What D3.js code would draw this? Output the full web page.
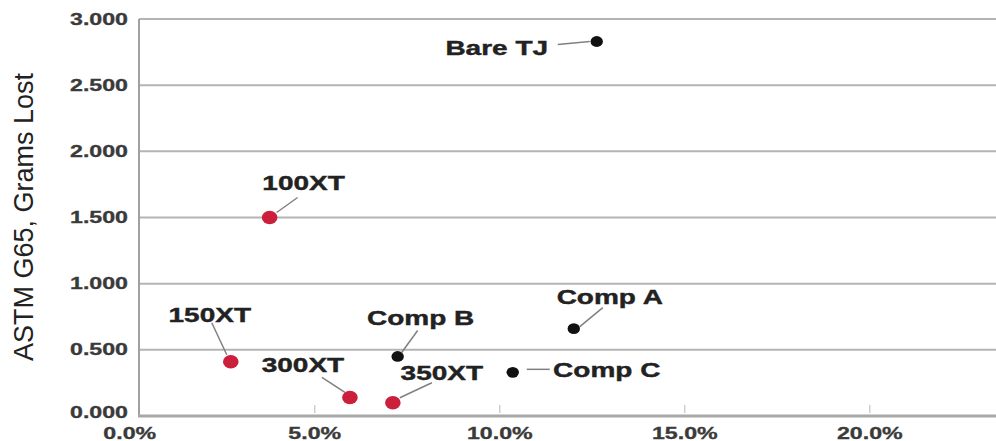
<!DOCTYPE html>
<html>
<head>
<meta charset="utf-8">
<script src="https://cdn.jsdelivr.net/npm/d3@7/dist/d3.min.js"></script>
<style>
  html, body { margin: 0; padding: 0; background: #fff; }
  svg { display: block; }
</style>
</head>
<body>
<svg id="chart" width="996" height="441"></svg>
<script>
// ---- data ----
const names   = ["Bare TJ", "100XT", "150XT", "300XT", "350XT", "Comp B", "Comp A", "Comp C"];
const xValues = [12.62, 3.78, 2.73, 5.95, 7.11, 7.24, 12.0, 10.35];   // percent
const yValues = [2.83, 1.50, 0.41, 0.14, 0.10, 0.45, 0.66, 0.33];     // grams lost
const groups  = ["comp", "xt", "xt", "xt", "xt", "comp", "comp", "comp"];
const xTicks  = [0, 5, 10, 15, 20];
const yTicks  = [0, 0.5, 1, 1.5, 2, 2.5, 3];
const yTitle  = "ASTM G65, Grams Lost";

// ---- layout (label placement relative to each dot, in px) ----
const labelLayout = {
  "Bare TJ": { dx: -100, dy: 7,   l: [-39, 3, -7, 0] },
  "100XT":   { dx: 34,   dy: -34, l: [7, -5, 28, -20] },
  "150XT":   { dx: -21,  dy: -47, l: [-19, -39, -4, -7] },
  "300XT":   { dx: -47,  dy: -32, l: [-28, -20, -5, -5] },
  "350XT":   { dx: 49,   dy: -30, l: [39, -20, 7, -5] },
  "Comp B":  { dx: 23,   dy: -38, l: [20, -26, 4, -4] },
  "Comp A":  { dx: 36,   dy: -32, l: [29, -21, 6, -2] },
  "Comp C":  { dx: 94,   dy: -2,  l: [14, -3, 37, -3] }
};

const svg = d3.select("#chart");
const mLeft = 139, mRight = 996, mTop = 19, mBottom = 416;

const x = d3.scaleLinear().domain([0.25, 23.41]).range([mLeft, mRight]);
const y = d3.scaleLinear().domain([0, 3]).range([mBottom, mTop]);

const SX = 1.4;  // horizontal stretch of glyphs in the reference

// gridlines
svg.append("g").selectAll("line")
  .data(yTicks.filter(d => d > 0))
  .join("line")
  .attr("x1", mLeft).attr("x2", mRight)
  .attr("y1", d => y(d)).attr("y2", d => y(d))
  .attr("stroke", "#b4b4b4").attr("stroke-width", 2);

// small tick marks inside plot at bottom
svg.append("g").selectAll("line")
  .data(xTicks.filter(d => d > 0))
  .join("line")
  .attr("x1", d => x(d)).attr("x2", d => x(d))
  .attr("y1", mBottom - 11).attr("y2", mBottom - 3)
  .attr("stroke", "#c4c4c4").attr("stroke-width", 1.2);

// axes lines
svg.append("line").attr("x1", mLeft).attr("x2", mLeft).attr("y1", mTop).attr("y2", mBottom)
  .attr("stroke", "#a0a0a0").attr("stroke-width", 2);
svg.append("line").attr("x1", mLeft - 1).attr("x2", mRight).attr("y1", mBottom).attr("y2", mBottom)
  .attr("stroke", "#a8a8a8").attr("stroke-width", 3);

// y tick labels
svg.append("g").selectAll("text")
  .data(yTicks)
  .join("text")
  .attr("transform", d => `translate(128,${y(d) - (d === 0 ? 4 : 0)}) scale(1.45,1)`)
  .attr("text-anchor", "end")
  .attr("dominant-baseline", "central")
  .attr("font-family", "Liberation Sans, Arial, sans-serif")
  .attr("font-weight", "bold")
  .attr("font-size", 16)
  .attr("fill", "#3a3a3a")
  .attr("stroke", "#3a3a3a").attr("stroke-width", 0.3)
  .text(d => d3.format(".3f")(d));

// x tick labels
svg.append("g").selectAll("text")
  .data(xTicks)
  .join("text")
  .attr("transform", d => `translate(${x(d)},433) scale(1.45,1)`)
  .attr("text-anchor", "middle")
  .attr("dominant-baseline", "central")
  .attr("font-family", "Liberation Sans, Arial, sans-serif")
  .attr("font-weight", "bold")
  .attr("font-size", 16)
  .attr("fill", "#3a3a3a")
  .attr("stroke", "#3a3a3a").attr("stroke-width", 0.3)
  .text(d => d3.format(".1f")(d) + "%");

// y title
svg.append("text")
  .attr("transform", `translate(24,${(72 + 362) / 2}) rotate(-90)`)
  .attr("text-anchor", "middle")
  .attr("dominant-baseline", "central")
  .attr("font-family", "Liberation Sans, Arial, sans-serif")
  .attr("font-size", 27)
  .attr("fill", "#222")
  .text(yTitle);

const pts = names.map((n, i) => ({ name: n, x: xValues[i], y: yValues[i], g: groups[i] }));

// leader lines
svg.append("g").selectAll("line")
  .data(pts)
  .join("line")
  .attr("x1", d => x(d.x) + labelLayout[d.name].l[0])
  .attr("y1", d => y(d.y) + labelLayout[d.name].l[1])
  .attr("x2", d => x(d.x) + labelLayout[d.name].l[2])
  .attr("y2", d => y(d.y) + labelLayout[d.name].l[3])
  .attr("stroke", "#808080").attr("stroke-width", 1.5);

// dots
svg.append("g").selectAll("ellipse")
  .data(pts)
  .join("ellipse")
  .attr("cx", d => x(d.x))
  .attr("cy", d => y(d.y))
  .attr("rx", d => d.g === "xt" ? 7.8 : 6.2)
  .attr("ry", d => d.g === "xt" ? 6.8 : 5.4)
  .attr("fill", d => d.g === "xt" ? "#cc1f3c" : "#111111");

// labels
svg.append("g").selectAll("text")
  .data(pts)
  .join("text")
  .attr("transform", d => `translate(${x(d.x) + labelLayout[d.name].dx},${y(d.y) + labelLayout[d.name].dy}) scale(${SX},1)`)
  .attr("text-anchor", "middle")
  .attr("dominant-baseline", "central")
  .attr("font-family", "Liberation Sans, Arial, sans-serif")
  .attr("font-weight", "bold")
  .attr("font-size", 20)
  .attr("fill", "#222")
  .attr("stroke", "#222").attr("stroke-width", 0.4)
  .text(d => d.name);
</script>
</body>
</html>
